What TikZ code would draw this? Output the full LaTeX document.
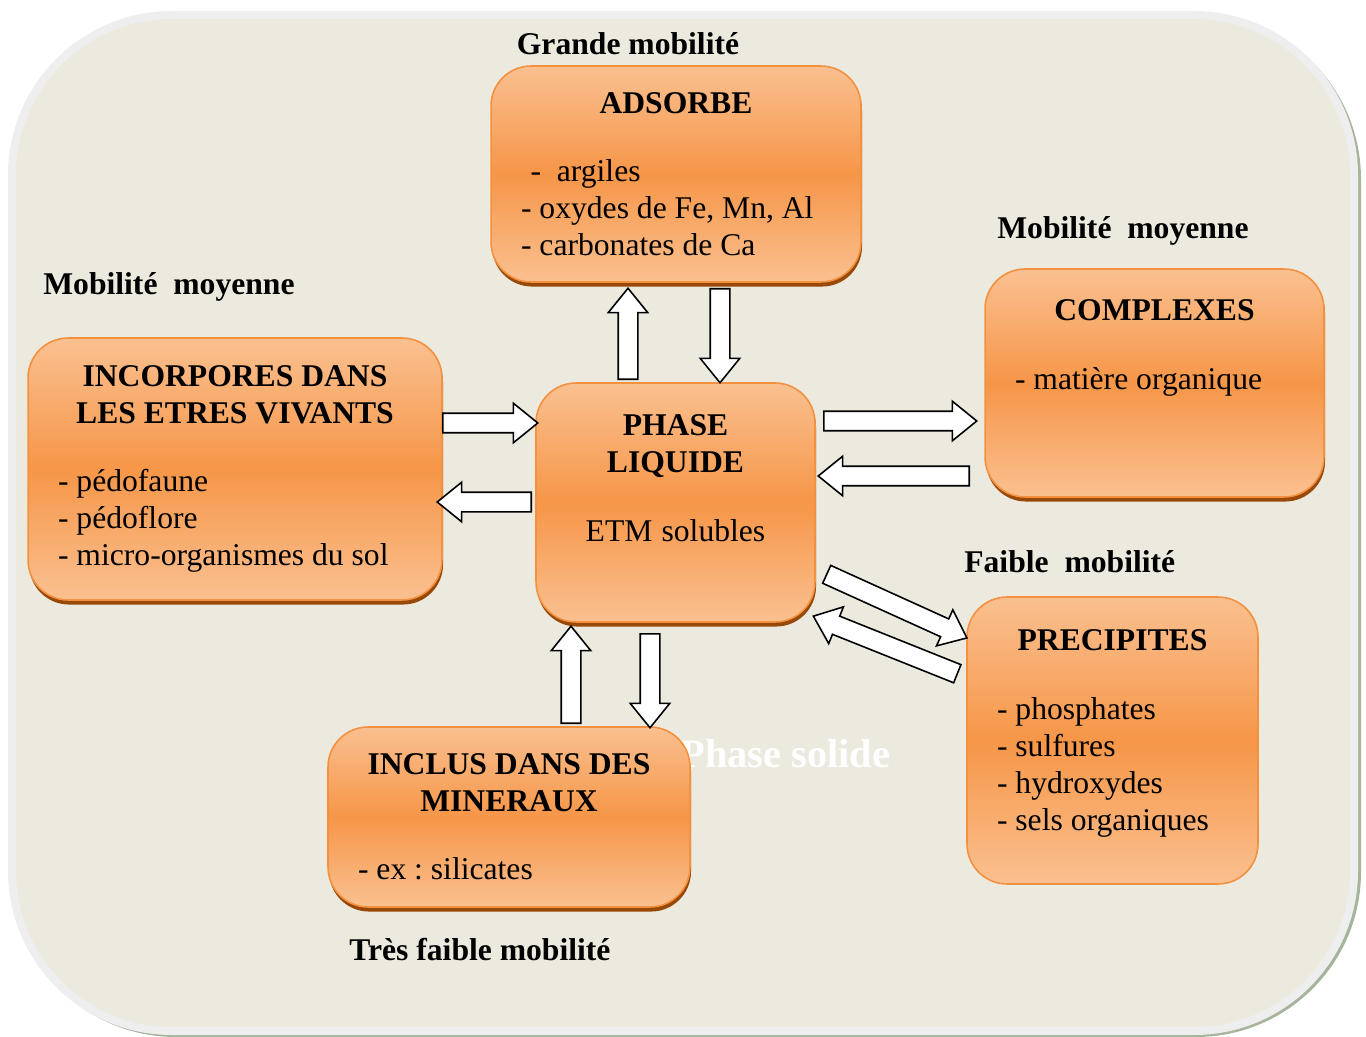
\documentclass[tikz,border=0pt]{standalone}
\usepackage{fontspec}
\setmainfont{Liberation Serif}
\usetikzlibrary{positioning,shapes.arrows,shadows}

\definecolor{fond}{RGB}{236,233,223}
\definecolor{cadre}{RGB}{238,238,238}
\definecolor{ombrefond}{RGB}{165,180,155}
\definecolor{orclair}{RGB}{250,192,144}
\definecolor{orfonce}{RGB}{246,150,72}
\definecolor{orbord}{RGB}{244,145,62}
\definecolor{ombre}{RGB}{152,72,7}

\frenchspacing
% espaces naturels de la fonte (align= les elargit)
\newcommand{\boxtitle}[1]{\spaceskip=0pt\relax\xspaceskip=0pt\relax
  {\centering\bfseries #1\par}\vspace{18pt}}
\newcommand{\padbottom}[1]{\par\vspace{#1}\null}

\tikzset{
  bloc/.style={rectangle, rounded corners=0.8cm, draw=orbord, line width=0.9pt,
    top color=orclair, bottom color=orclair, middle color=orfonce,
    inner xsep=0.6cm, inner ysep=0pt, align=left,
    font=\fontsize{18}{21}\selectfont\frenchspacing},
  ombrage/.style={drop shadow={shadow xshift=0.6pt, shadow yshift=-2.6pt,
    fill=ombre, opacity=1}},
  flux/.style={single arrow, draw=black, fill=white, line width=0.9pt,
    inner xsep=0pt, inner ysep=0.18cm, single arrow head extend=0.2cm,
    single arrow tip angle=78, single arrow head indent=0pt, anchor=tail},
  mob/.style={font=\fontsize{18}{21}\selectfont\bfseries, inner sep=0pt}
}

\begin{document}
\begin{tikzpicture}[x=0.02cm, y=-0.02cm]
  \useasboundingbox (0,0) rectangle (1366,1037);
  % fond
  \fill[ombrefond, rounded corners=3.3cm] (11,14) rectangle (1361,1037);
  \draw[cadre, fill=fond, line width=0.16cm, rounded corners=3.2cm] (12,15) rectangle (1354,1031);
  \node[font=\fontsize{23}{26}\selectfont\bfseries, text=white, anchor=base west, inner sep=0pt] (ps) at (680,767) {Phase solide};

  % blocs
  \node[bloc, ombrage, text width=6.2cm, minimum height=4.32cm] (ads) at (676,174)
    {\boxtitle{ADSORBE}\hspace*{0.3em}-~~argiles\\- oxydes de Fe, Mn, Al\\- carbonates de Ca};
  \node[bloc, ombrage, text width=7.08cm, minimum height=5.24cm] (incorp) at (235,469)
    {\boxtitle{INCORPORES DANS\\LES ETRES VIVANTS}- pédofaune\\- pédoflore\\- micro-organismes du sol};
  \node[bloc, ombrage, align=center, text width=4.38cm, minimum height=4.78cm] (liq) at (675.5,502.5)
    {\boxtitle{PHASE\\LIQUIDE}ETM solubles\padbottom{7pt}};
  \node[bloc, ombrage, text width=5.58cm, minimum height=4.56cm] (compl) at (1154.5,383)
    {\boxtitle{COMPLEXES}- matière organique\padbottom{23pt}};
  \node[bloc, text width=4.62cm, minimum height=5.74cm] (precip) at (1112.5,740.5)
    {\boxtitle{PRECIPITES}- phosphates\\- sulfures\\- hydroxydes\\- sels organiques\padbottom{-9pt}};
  \node[bloc, ombrage, text width=6.04cm, minimum height=3.6cm] (incl) at (509,817)
    {\boxtitle{INCLUS DANS DES\\MINERAUX}- ex : silicates};

  % fleches (placees par leur queue)
  \node[flux, minimum height=1.82cm, rotate=90] (a1) at (628,380) {};
  \node[flux, minimum height=1.88cm, rotate=-90] (a2) at (720,288) {};
  \node[flux, minimum height=1.90cm] (a3) at (442,423) {};
  \node[flux, minimum height=1.88cm, rotate=180] (a4) at (532,502) {};
  \node[flux, minimum height=3.06cm] (a5) at (823,421) {};
  \node[flux, minimum height=3.02cm, rotate=180] (a6) at (970,476) {};
  \node[flux, minimum height=3.08cm, rotate=-24.4] (a7) at (826,574) {};
  \node[flux, minimum height=3.10cm, rotate=158.2] (a8) at (958,674) {};
  \node[flux, minimum height=1.94cm, rotate=90] (a9) at (571,724) {};
  \node[flux, minimum height=1.88cm, rotate=-90] (a10) at (650,633) {};

  % mobilite
  \node[mob, anchor=base] (l1) at (628,55) {Grande mobilité};
  \node[mob, anchor=base west] (l2) at (43,295) {Mobilité~~moyenne};
  \node[mob, anchor=base west] (l3) at (997,239) {Mobilité~~moyenne};
  \node[mob, anchor=base west] (l4) at (964,572) {Faible~~mobilité};
  \node[mob, anchor=base west] (l5) at (349,960) {Très faible mobilité};
\end{tikzpicture}
\end{document}
